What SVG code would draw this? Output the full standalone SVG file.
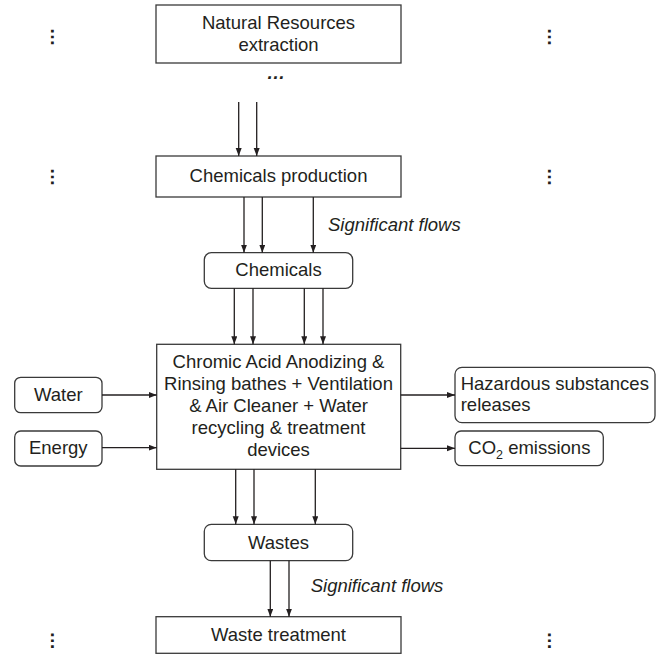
<svg xmlns="http://www.w3.org/2000/svg" width="661" height="654" viewBox="0 0 661 654">
<defs>
<marker id="ah" markerUnits="userSpaceOnUse" markerWidth="9" markerHeight="7" refX="8" refY="3" orient="auto">
<path d="M0,0 L8,3 L0,6 z" fill="#231f20"/>
</marker>
<style>
.box{fill:#fff;stroke:#3a3a3a;stroke-width:1.3}
.t{font-family:"Liberation Sans",Arial,sans-serif;font-size:18.5px;fill:#231f20}
.c{text-anchor:middle}
.i{font-style:italic}
.ln{stroke:#231f20;stroke-width:1.3;fill:none;marker-end:url(#ah)}
.dots{font-family:"Liberation Sans",Arial,sans-serif;font-size:18.5px;font-weight:bold;fill:#231f20;text-anchor:middle}
</style>
</defs>
<rect width="661" height="654" fill="#fff"/>

<g id="n-natural">
<rect class="box" x="156" y="5" width="245" height="58"/>
<text class="t c" x="278.5" y="28.5">Natural Resources</text>
<text class="t c" x="278.5" y="51">extraction</text>
</g>
<text class="dots i" x="276" y="78.5">…</text>

<g id="n-chemprod">
<rect class="box" x="156" y="156" width="245" height="41"/>
<text class="t c" x="278.5" y="182">Chemicals production</text>
</g>

<g id="n-chemicals">
<rect class="box" x="204.3" y="252.7" width="148.4" height="35.6" rx="7"/>
<text class="t c" x="278.5" y="275.5">Chemicals</text>
</g>

<g id="n-main">
<rect class="box" x="156.7" y="344.3" width="244" height="125"/>
<text class="t c" x="278.5" y="368">Chromic Acid Anodizing &amp;</text>
<text class="t c" x="278.5" y="390">Rinsing bathes + Ventilation</text>
<text class="t c" x="278.5" y="412">&amp; Air Cleaner + Water</text>
<text class="t c" x="278.5" y="434">recycling &amp; treatment</text>
<text class="t c" x="278.5" y="456">devices</text>
</g>

<g id="n-water">
<rect class="box" x="14.7" y="377.3" width="87.3" height="35.4" rx="6"/>
<text class="t c" x="58.3" y="400.5">Water</text>
</g>

<g id="n-energy">
<rect class="box" x="14.7" y="431" width="87.3" height="35" rx="6"/>
<text class="t c" x="58.3" y="453.5">Energy</text>
</g>

<g id="n-hazard">
<rect class="box" x="455" y="367.3" width="200" height="55.4" rx="7"/>
<text class="t" x="460.7" y="389.5">Hazardous substances</text>
<text class="t" x="460.7" y="411">releases</text>
</g>

<g id="n-co2">
<rect class="box" x="455" y="431" width="148.3" height="34.7" rx="6"/>
<text class="t" x="468.3" y="453.5">CO<tspan font-size="12.5" dy="5">2</tspan><tspan dy="-5"> emissions</tspan></text>
</g>

<g id="n-wastes">
<rect class="box" x="204.3" y="524.3" width="148.4" height="36.4" rx="7"/>
<text class="t c" x="278.5" y="548.5">Wastes</text>
</g>

<g id="n-wastetreat">
<rect class="box" x="156" y="616.7" width="245" height="36.6"/>
<text class="t c" x="278.5" y="640.5">Waste treatment</text>
</g>

<g id="labels">
<text class="t i" x="328" y="231">Significant flows</text>
<text class="t i" x="310.7" y="592">Significant flows</text>
</g>

<g id="ellipses">
<text class="dots" transform="translate(50.5,37) rotate(90)" x="0" y="0">…</text>
<text class="dots" transform="translate(548,37) rotate(90)" x="0" y="0">…</text>
<text class="dots" transform="translate(50.5,177) rotate(90)" x="0" y="0">…</text>
<text class="dots" transform="translate(548,177) rotate(90)" x="0" y="0">…</text>
<text class="dots" transform="translate(50.5,640.7) rotate(90)" x="0" y="0">…</text>
<text class="dots" transform="translate(548,640.7) rotate(90)" x="0" y="0">…</text>
</g>

<g id="connectors">
<line class="ln" x1="238.7" y1="102" x2="238.7" y2="156"/>
<line class="ln" x1="256.7" y1="102" x2="256.7" y2="156"/>
<line class="ln" x1="244" y1="197" x2="244" y2="252.7"/>
<line class="ln" x1="262.3" y1="197" x2="262.3" y2="252.7"/>
<line class="ln" x1="313.3" y1="197" x2="313.3" y2="252.7"/>
<line class="ln" x1="234.3" y1="288.3" x2="234.3" y2="344.3"/>
<line class="ln" x1="253" y1="288.3" x2="253" y2="344.3"/>
<line class="ln" x1="304.3" y1="288.3" x2="304.3" y2="344.3"/>
<line class="ln" x1="323" y1="288.3" x2="323" y2="344.3"/>
<line class="ln" x1="102" y1="395" x2="156.7" y2="395"/>
<line class="ln" x1="102" y1="447.7" x2="156.7" y2="447.7"/>
<line class="ln" x1="400.7" y1="395" x2="455" y2="395"/>
<line class="ln" x1="400.7" y1="448.3" x2="455" y2="448.3"/>
<line class="ln" x1="235.7" y1="469.3" x2="235.7" y2="524.3"/>
<line class="ln" x1="254" y1="469.3" x2="254" y2="524.3"/>
<line class="ln" x1="315.3" y1="469.3" x2="315.3" y2="524.3"/>
<line class="ln" x1="270.3" y1="560.7" x2="270.3" y2="616.7"/>
<line class="ln" x1="289" y1="560.7" x2="289" y2="616.7"/>
</g>
</svg>
